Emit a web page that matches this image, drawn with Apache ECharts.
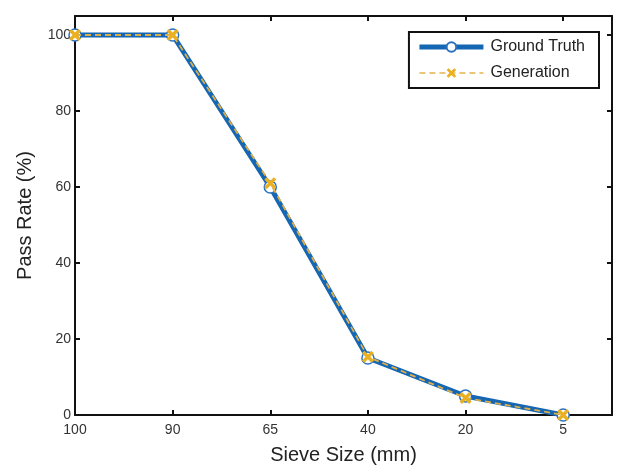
<!DOCTYPE html>
<html>
<head>
<meta charset="utf-8">
<script src="https://cdn.jsdelivr.net/npm/echarts@6/dist/echarts.min.js"></script>
<style>
  html, body { margin: 0; padding: 0; background: #fff; }
  #main { width: 617px; height: 470px; }
</style>
</head>
<body>
<div id="main"></div>
<script>
// sieve sizes along x (mm), evenly spaced
var sieveSizes = ['100', '90', '65', '40', '20', '5'];
var groundTruth = [100, 100, 60, 15, 5, 0];
var generation = [100, 100, 61, 15.3, 4.5, 0];
var yTicks = [0, 20, 40, 60, 80, 100];

var xMark = 'path://M2,0 L5,3 L8,0 L10,2 L7,5 L10,8 L8,10 L5,7 L2,10 L0,8 L3,5 L0,2 Z';

function pairs(vals) {
    return vals.map(function (v, i) { return [i, v]; });
}

var font = 'Liberation Sans, Arial, sans-serif';
var axisLine = { show: true, onZero: false, lineStyle: { color: '#111', width: 2 } };
var axisTick = { show: true, inside: true, length: 5, lineStyle: { color: '#111', width: 2 } };

var myChart = echarts.init(document.getElementById('main'));
myChart.setOption({
    animation: false,
    grid: { left: 75, right: 5, top: 16, bottom: 53, containLabel: false },
    legend: {
        right: 18, top: 32,
        orient: 'vertical',
        backgroundColor: '#fff',
        borderColor: '#111', borderWidth: 2, borderRadius: 0,
        padding: [7, 14, 7, 8],
        itemWidth: 64, itemHeight: 12, itemGap: 10,
        textStyle: { fontFamily: font, fontSize: 16, color: '#222', padding: [0, 0, 0, 2] },
        data: [
            { name: 'Ground Truth', lineStyle: { width: 5, color: '#1566b3' } },
            { name: 'Generation', lineStyle: { width: 1.5, color: '#e5b44a', type: [6, 4] } }
        ]
    },
    xAxis: [{
        type: 'value', min: 0, max: 5.5, interval: 1,
        name: 'Sieve Size (mm)', nameLocation: 'middle', nameGap: 30,
        nameTextStyle: { fontFamily: font, fontSize: 20, color: '#222' },
        axisLine: axisLine, axisTick: axisTick,
        splitLine: { show: false },
        axisLabel: {
            fontFamily: font, fontSize: 14, color: '#333', margin: 8,
            formatter: function (v) { return Number.isInteger(v) ? sieveSizes[v] : ''; }
        }
    }, {
        type: 'value', position: 'top', min: 0, max: 5.5, interval: 1,
        axisLine: axisLine, axisTick: axisTick,
        axisLabel: { show: false }, splitLine: { show: false }
    }],
    yAxis: [{
        type: 'value', min: 0, max: 105, interval: 20,
        name: 'Pass Rate (%)', nameLocation: 'middle', nameGap: 40,
        nameTextStyle: { fontFamily: font, fontSize: 20, color: '#222' },
        axisLine: axisLine, axisTick: axisTick,
        splitLine: { show: false },
        axisLabel: {
            fontFamily: font, fontSize: 14, color: '#333', margin: 4,
            formatter: function (v) { return yTicks.indexOf(v) >= 0 ? String(v) : ''; }
        }
    }, {
        type: 'value', position: 'right', min: 0, max: 105, interval: 20,
        axisLine: axisLine, axisTick: axisTick,
        axisLabel: { show: false }, splitLine: { show: false }
    }],
    series: [{
        name: 'Ground Truth',
        type: 'line',
        data: pairs(groundTruth),
        symbol: 'circle', symbolSize: 12, showAllSymbol: true,
        itemStyle: { color: '#fff', borderColor: '#2a72c0', borderWidth: 1.5 },
        lineStyle: { color: '#1566b3', width: 5 },
        z: 2
    }, {
        name: 'Generation',
        type: 'line',
        data: pairs(generation),
        symbol: xMark, symbolSize: 12, showAllSymbol: true,
        itemStyle: { color: '#e9b022', borderWidth: 0 },
        lineStyle: { color: '#dcae4a', width: 1.8, type: [6, 4] },
        z: 3
    }]
});
</script>
</body>
</html>
